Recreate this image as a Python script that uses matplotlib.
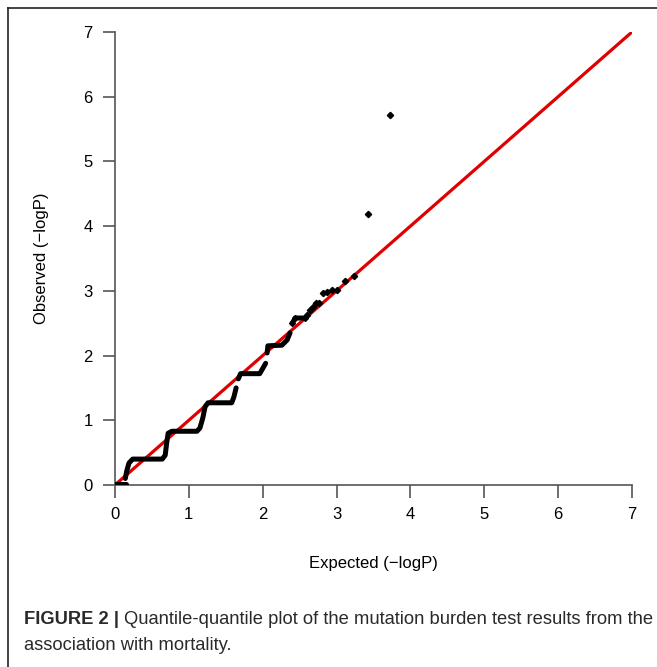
import matplotlib
matplotlib.use("Agg")
import matplotlib.pyplot as plt
from matplotlib.lines import Line2D

plt.rcParams['font.family'] = ['Liberation Sans', 'DejaVu Sans']

# dense staircase parts of the QQ cloud (expected, observed)
base_exp = [0.0, 0.15]
base_obs = [0.02, 0.02]

stair1_exp = [0.14, 0.16, 0.19, 0.24, 0.64, 0.68, 0.70, 0.72, 0.77, 1.11,
              1.15, 1.19, 1.22, 1.26, 1.58, 1.61, 1.64]
stair1_obs = [0.10, 0.22, 0.34, 0.40, 0.40, 0.46, 0.65, 0.80, 0.83, 0.83,
              0.88, 1.04, 1.21, 1.27, 1.27, 1.36, 1.50]

stair2_exp = [1.67, 1.70, 1.96, 2.00, 2.04]
stair2_obs = [1.64, 1.72, 1.72, 1.80, 1.88]

stair3_exp = [2.06, 2.07, 2.26, 2.33, 2.37]
stair3_obs = [2.04, 2.15, 2.16, 2.24, 2.35]

stair4_exp = [2.40, 2.44, 2.57]
stair4_obs = [2.50, 2.58, 2.58]

# sparse upper tail
tail_exp = [2.60, 2.64, 2.68, 2.72, 2.76, 2.81, 2.87, 2.94, 3.01, 3.11, 3.24, 3.42, 3.72]
tail_obs = [2.63, 2.70, 2.75, 2.81, 2.81, 2.97, 2.98, 3.01, 3.01, 3.15, 3.23, 4.19, 5.72]

ticks = [0, 1, 2, 3, 4, 5, 6, 7]

fig = plt.figure(figsize=(6.57, 6.67), dpi=100)
ax = fig.add_axes([0.175, 0.2729, 0.787, 0.6792])

ax.plot([0, 7], [0, 7], color='#e00000', lw=2.3, zorder=3, solid_capstyle='butt')

for xs, ys in [(base_exp, base_obs), (stair1_exp, stair1_obs), (stair2_exp, stair2_obs),
               (stair3_exp, stair3_obs), (stair4_exp, stair4_obs)]:
    ax.plot(xs, ys, color='black', lw=3.6, solid_capstyle='round',
            solid_joinstyle='round', zorder=4)
ax.plot(stair4_exp, stair4_obs, 'D', color='black', ms=3, zorder=4)
ax.plot(tail_exp, tail_obs, 'D', color='black', ms=3.2, mec='black', zorder=4)

ax.set_xlim(0, 7)
ax.set_ylim(0, 7)
ax.set_xticks(ticks)
ax.set_yticks(ticks)
ax.tick_params(direction='out', length=9, width=1.2, color='#555555',
               labelsize=12, pad=7)
for s in ['top', 'right']:
    ax.spines[s].set_visible(False)
for s in ['left', 'bottom']:
    ax.spines[s].set_color('#555555')
    ax.spines[s].set_linewidth(1.2)
ax.set_xlabel('Expected (\u2212logP)', fontsize=12, labelpad=24)
ax.set_ylabel('Observed (\u2212logP)', fontsize=12, labelpad=25)
ax.patch.set_visible(False)

# frame lines of the figure panel
fig.add_artist(Line2D([8 / 657, 8 / 657], [0, 1 - 8 / 667], transform=fig.transFigure,
                      color='#222222', lw=1.2))
fig.add_artist(Line2D([8 / 657, 1], [1 - 8 / 667, 1 - 8 / 667], transform=fig.transFigure,
                      color='#222222', lw=1.2))

# caption
cap_font = ['Liberation Sans Narrow', 'Liberation Sans', 'DejaVu Sans']
t1 = fig.text(24 / 657, 1 - 620 / 667, 'FIGURE 2 |', fontsize=13.2, fontweight='bold',
              family=cap_font, va='center', color='#2a2a2a')
fig.canvas.draw()
bb = t1.get_window_extent()
x2 = (bb.x1 + 5) / fig.bbox.width
fig.text(x2, 1 - 620 / 667,
         'Quantile-quantile plot of the mutation burden test results from the',
         fontsize=13.2, family=cap_font, va='center', color='#2a2a2a')
fig.text(24 / 657, 1 - 646 / 667, 'association with mortality.', fontsize=13.2,
         family=cap_font, va='center', color='#2a2a2a')

fig.savefig('out.png', dpi=100)
